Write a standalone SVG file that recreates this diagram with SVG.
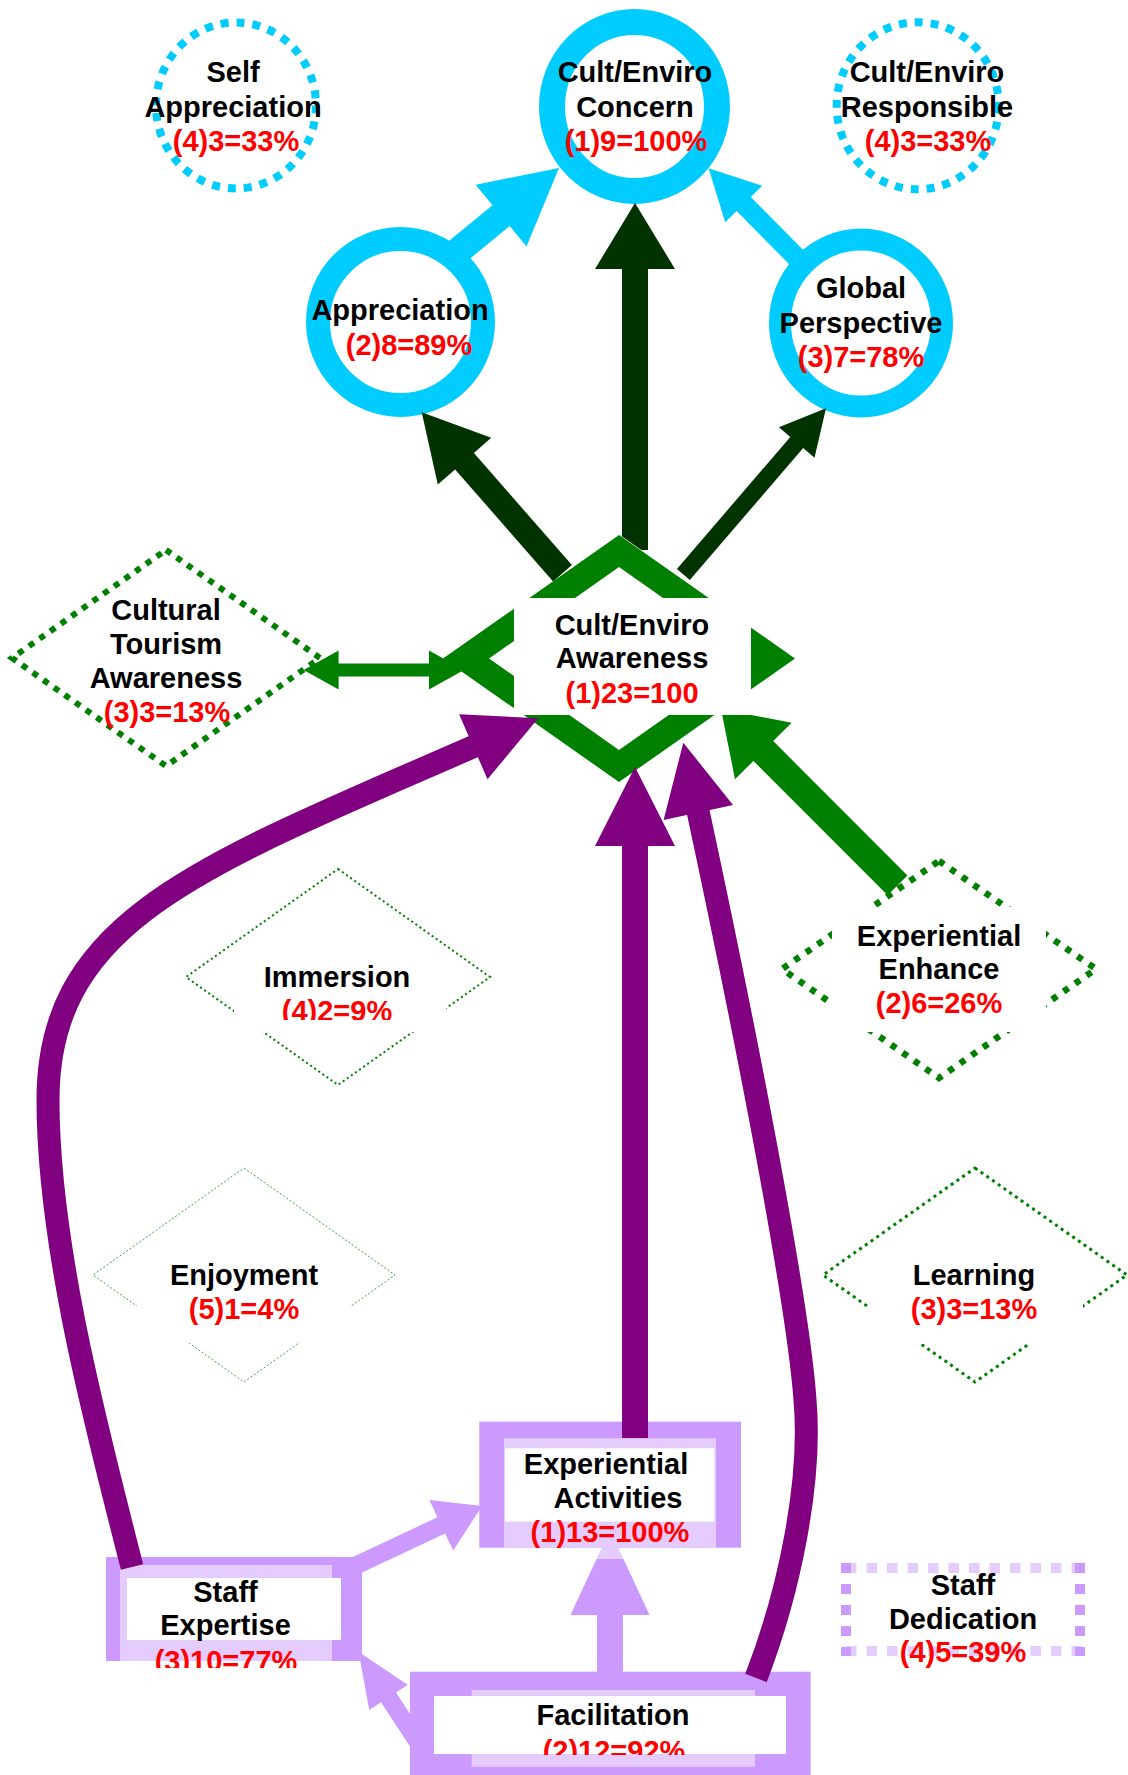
<svg xmlns="http://www.w3.org/2000/svg" width="1128" height="1775" viewBox="0 0 1128 1775">
<defs>
<style>
.t{font-family:"Liberation Sans",Arial,Helvetica,sans-serif;font-weight:bold;font-size:29px;text-anchor:middle;fill:#000000}
.r{fill:#FF0000}
.ring{fill:none;stroke:#00CCFF}
.dotc{fill:none;stroke:#00CCFF;stroke-width:8;stroke-dasharray:8 8}
.dia{fill:none;stroke:#008000}
.dg{fill:#003300}
.cy{fill:#00CCFF}
.gr{fill:#008000}
.pu{fill:#800080}
.pl{fill:none;stroke:#800080;stroke-width:23}
.lav{fill:#CC99FF}
.lt{fill:#E5CCFF}
.wh{fill:#FFFFFF}
</style>
<clipPath id="clipImm"><rect x="0" y="0" width="1128" height="1020"/></clipPath>
<clipPath id="clipStaff"><rect x="0" y="0" width="1128" height="1668"/></clipPath>
<clipPath id="clipFac"><rect x="0" y="0" width="1128" height="1755"/></clipPath>
</defs>
<rect x="0" y="0" width="1128" height="1775" fill="#FFFFFF"/>

<g id="self-appreciation">
<ellipse cx="236" cy="105.5" rx="80" ry="83" class="dotc"/>
<text class="t" x="233" y="82">Self</text>
<text class="t" x="233" y="117">Appreciation</text>
<text class="t r" x="236" y="151">(4)3=33%</text>
</g>

<g id="cult-enviro-concern">
<ellipse cx="634.5" cy="106.5" rx="82.5" ry="84.5" class="ring" stroke-width="26"/>
<text class="t" x="635" y="82">Cult/Enviro</text>
<text class="t" x="635" y="117">Concern</text>
<text class="t r" x="636" y="151">(1)9=100%</text>
</g>

<g id="cult-enviro-responsible">
<ellipse cx="917.7" cy="105.8" rx="81" ry="83.5" class="dotc"/>
<text class="t" x="927" y="82">Cult/Enviro</text>
<text class="t" x="927" y="117">Responsible</text>
<text class="t r" x="928" y="151">(4)3=33%</text>
</g>

<g id="appreciation">
<ellipse cx="400.5" cy="322" rx="82.5" ry="83" class="ring" stroke-width="24"/>
<text class="t" x="400" y="320">Appreciation</text>
<text class="t r" x="409" y="355">(2)8=89%</text>
</g>

<g id="global-perspective">
<ellipse cx="861" cy="323" rx="81" ry="83.5" class="ring" stroke-width="22"/>
<text class="t" x="861" y="298">Global</text>
<text class="t" x="861" y="333">Perspective</text>
<text class="t r" x="861" y="367">(3)7=78%</text>
</g>

<g id="cultural-tourism-awareness">
<polygon points="166,550 320,658 166,766 12,658" class="dia" stroke-width="6" stroke-dasharray="6 7"/>
<text class="t" x="166" y="620">Cultural</text>
<text class="t" x="166" y="654">Tourism</text>
<text class="t" x="166" y="688">Awareness</text>
<text class="t r" x="167" y="722">(3)3=13%</text>
</g>

<g id="cult-enviro-awareness">
<path class="gr" fill-rule="evenodd" d="M619,535 L795,658.5 L619,782 L443,658.5 Z M619,567 L749,658.5 L619,750 L489,658.5 Z"/>
<rect class="wh" x="514" y="598" width="237" height="117"/>
<text class="t" x="632" y="635">Cult/Enviro</text>
<text class="t" x="632" y="668">Awareness</text>
<text class="t r" x="632" y="703">(1)23=100</text>
</g>

<g id="immersion">
<polygon points="338,869 490,977 338,1085 186,977" class="dia" stroke-width="2" stroke-dasharray="2 3"/>
<rect class="wh" x="234" y="950" width="212" height="82"/>
<text class="t" x="337" y="987">Immersion</text>
<text class="t r" x="337" y="1021" clip-path="url(#clipImm)">(4)2=9%</text>
</g>

<g id="experiential-enhance">
<polygon points="939,861 1096,969 939,1078 782,969" class="dia" stroke-width="6.5" stroke-dasharray="6 8"/>
<rect class="wh" x="832" y="907" width="214" height="125"/>
<text class="t" x="939" y="946">Experiential</text>
<text class="t" x="939" y="979">Enhance</text>
<text class="t r" x="939" y="1013">(2)6=26%</text>
</g>

<g id="enjoyment">
<polygon points="244,1168 395,1275 244,1382 93,1275" class="dia" stroke-width="1" stroke-dasharray="2 2" stroke-opacity="0.75"/>
<rect class="wh" x="137" y="1250" width="213" height="93"/>
<text class="t" x="244" y="1285">Enjoyment</text>
<text class="t r" x="244" y="1319">(5)1=4%</text>
</g>

<g id="learning">
<polygon points="975,1168 1127,1275 975,1382 823,1275" class="dia" stroke-width="3" stroke-dasharray="3 4"/>
<rect class="wh" x="869" y="1250" width="214" height="94"/>
<text class="t" x="974" y="1285">Learning</text>
<text class="t r" x="974" y="1319">(3)3=13%</text>
</g>

<g id="experiential-activities">
<rect class="lav" x="479.3" y="1421.7" width="261.7" height="126"/>
<rect class="lt" x="504" y="1438.3" width="212" height="109.4"/>
<rect class="wh" x="505" y="1448.3" width="209.3" height="73.4"/>
<text class="t" x="606" y="1474">Experiential</text>
<text class="t" x="618" y="1508">Activities</text>
<text class="t r" x="610" y="1542">(1)13=100%</text>
</g>

<g id="staff-expertise">
<rect class="lav" x="106" y="1557" width="256" height="104"/>
<rect class="lt" x="120" y="1565" width="212" height="96"/>
<rect class="wh" x="127" y="1578" width="214" height="62"/>
<text class="t" x="225.5" y="1602">Staff</text>
<text class="t" x="225.5" y="1635">Expertise</text>
<text class="t r" x="226" y="1671" clip-path="url(#clipStaff)">(3)10=77%</text>
</g>

<g id="facilitation">
<rect class="lav" x="410" y="1671.7" width="400.7" height="103.3"/>
<rect class="lt" x="471.7" y="1690" width="283.3" height="76.7"/>
<rect class="wh" x="434" y="1696" width="352" height="58"/>
<text class="t" x="613" y="1725">Facilitation</text>
<text class="t r" x="614" y="1761" clip-path="url(#clipFac)">(2)12=92%</text>
</g>

<g id="staff-dedication">
<line x1="846" y1="1568" x2="1085" y2="1568" stroke="#E5CCFF" stroke-width="10" stroke-dasharray="10.5 10"/>
<line x1="846" y1="1651" x2="1085" y2="1651" stroke="#E5CCFF" stroke-width="10" stroke-dasharray="10.5 10"/>
<line x1="846" y1="1563" x2="846" y2="1656" stroke="#CC99FF" stroke-width="10" stroke-dasharray="10 11"/>
<line x1="1080" y1="1563" x2="1080" y2="1656" stroke="#CC99FF" stroke-width="10" stroke-dasharray="10 11"/>
<text class="t" x="963" y="1595">Staff</text>
<text class="t" x="963" y="1629">Dedication</text>
<text class="t r" x="963" y="1662">(4)5=39%</text>
</g>

<g id="connectors">
<polygon class="dg" points="622,536.4 622,269 595,269 635,203 675,269 648,269 648,550 641.4,550"/>
<polygon class="dg" points="571.9,565.1 473.9,453 491.2,437.8 421.7,412.3 437.8,484.6 455.1,469.4 553.1,581.5"/>
<polygon class="dg" points="689.8,580 803.2,448 814.5,457.8 826,408.3 778.9,427.2 790.3,437 676.9,569"/>
<polygon class="cy" points="460.6,266.4 509.7,226 526.5,246.5 559,168 475.7,184.7 492.5,205.2 443.4,245.6"/>
<polygon class="cy" points="807.1,254 750.8,196.9 762.2,185.65 708.6,168.3 725.2,222.15 736.6,210.9 792.9,268"/>
<polygon class="gr" points="303.6,670 338.6,650.5 338.6,663.5 429,663.5 429,650.5 464,670 429,689.5 429,676.5 338.6,676.5 338.6,689.5"/>
<polygon class="gr" points="722.2,715 751,715 791.6,722.7 773.2,741.1 907.5,875.4 887.7,895.2 753.4,760.9 735,779.3"/>
<polygon class="lav" points="348.3,1579.1 445.1,1533.5 453.2,1550.6 482,1506.1 429.4,1500 437.5,1517.2 340.7,1562.8"/>
<polygon class="lav" points="428.9,1742.6 396,1692.4 407.7,1684.7 358.5,1651.7 369.3,1709.9 381,1702.2 413.9,1752.4"/>
<polygon class="lav" points="596.5,1559 623.5,1559 649.5,1615 623,1615 623,1672 597,1672 597,1615 570.5,1615"/>
<polygon class="lt" points="601.8,1547.7 618.2,1547.7 623.5,1559 596.5,1559"/>
<polygon class="pu" points="648,1438 648,846 675,846 635,767 595,846 622,846 622,1438"/>
<path class="pl" d="M132,1567 C100,1440 48,1250 48,1100 C48,920 198,867 476,745.5"/>
<polygon class="pu" points="538.3,718.3 487.5,779.2 459.1,714.2"/>
<path class="pl" d="M756,1678 C790,1590 812,1480 805,1400 C798,1300 744.5,1027.7 697.7,809.6"/>
<polygon class="pu" points="683.3,742.7 733,805 663.6,820"/>
</g>
</svg>
